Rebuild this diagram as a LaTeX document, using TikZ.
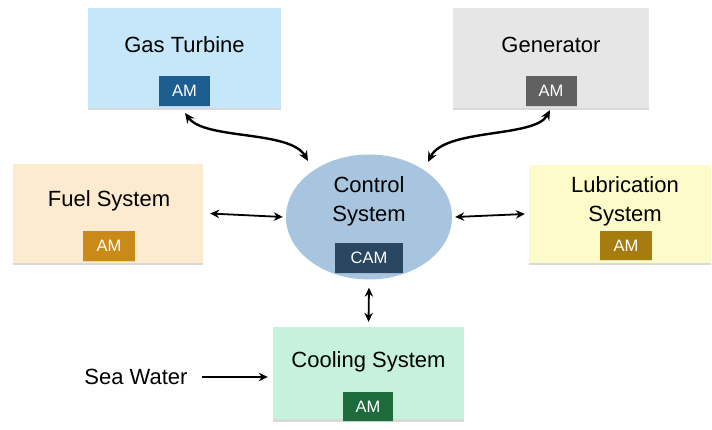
\documentclass[tikz,border=0pt]{standalone}
\usepackage{fontspec}
\setmainfont{Liberation Sans}
\usetikzlibrary{arrows.meta,shadows,shapes.geometric}
\definecolor{gtfill}{HTML}{C6E7FA}
\definecolor{gtam}{HTML}{1B5E8F}
\definecolor{genfill}{HTML}{E6E6E6}
\definecolor{genam}{HTML}{616161}
\definecolor{fuelfill}{HTML}{FDEBD0}
\definecolor{fuelam}{HTML}{C98A17}
\definecolor{ctrlfill}{HTML}{A7C5DE}
\definecolor{ctrlam}{HTML}{294761}
\definecolor{lubfill}{HTML}{FCFBC9}
\definecolor{lubam}{HTML}{A67C0F}
\definecolor{coolfill}{HTML}{C6F1DB}
\definecolor{coolam}{HTML}{1E6B3C}
\tikzset{
  sysbox/.style={rectangle, draw=none, inner sep=0pt,
    drop shadow={opacity=0.3, shadow xshift=0pt, shadow yshift=-2.5pt}},
  ambox/.style={rectangle, draw=none, inner sep=0pt, minimum width=51pt, minimum height=30pt,
    text=white, font=\fontsize{16.5}{19}\selectfont,
    drop shadow={opacity=0.2, shadow xshift=0pt, shadow yshift=-1pt}},
  lbl/.style={font=\fontsize{22}{26}\selectfont, text=black, inner sep=0pt, align=center},
  harrow/.style={line width=1.8pt, {Stealth[length=9pt,width=8.5pt]}-{Stealth[length=9pt,width=8.5pt]}},
  carrow/.style={line width=2.4pt, {Stealth[length=10pt,width=9pt]}-{Stealth[length=10pt,width=9pt]}},
  sarrow/.style={line width=1.8pt, -{Stealth[length=9pt,width=8.5pt]}}
}
\begin{document}
\begin{tikzpicture}[x=1pt,y=-1pt]
\useasboundingbox (0,0) rectangle (712,430);
\clip (0,0) rectangle (712,430);
% Gas Turbine
\node[sysbox, fill=gtfill, minimum width=193pt, minimum height=100pt] (gt) at (184.5,58) {};
\node[lbl] (gtl) at (184.5,45) {Gas Turbine};
\node[ambox, fill=gtam] (gta) at (184.5,91) {AM};
% Generator
\node[sysbox, fill=genfill, minimum width=196pt, minimum height=100pt] (gen) at (551,58) {};
\node[lbl] (genl) at (551,45) {Generator};
\node[ambox, fill=genam] (gena) at (551,91) {AM};
% Fuel System
\node[sysbox, fill=fuelfill, minimum width=190pt, minimum height=99pt] (fuel) at (108,213.5) {};
\node[lbl] (fuell) at (109,201) {Fuel System};
\node[ambox, fill=fuelam, minimum width=52pt] (fuela) at (109,246) {AM};
% Lubrication System
\node[sysbox, fill=lubfill, minimum width=182pt, minimum height=98pt] (lub) at (620,214) {};
\node[lbl] (lubl) at (625,201) {Lubrication\\[3pt]System};
\node[ambox, fill=lubam, minimum width=52pt, minimum height=29pt] (luba) at (626,246) {AM};
% Control System
\node[ellipse, fill=ctrlfill, draw=none, minimum width=166pt, minimum height=125pt, inner sep=0pt] (ctrl) at (369,217) {};
\node[lbl] (ctrll) at (369,201) {Control\\[3pt]System};
\node[ambox, fill=ctrlam, minimum width=68pt] (ctrla) at (369,258) {CAM};
% Cooling System
\node[sysbox, fill=coolfill, minimum width=191pt, minimum height=92pt] (cool) at (368.5,373) {};
\node[lbl] (cooll) at (368.5,362) {Cooling System};
\node[ambox, fill=coolam, minimum width=50pt, minimum height=29pt] (coola) at (368,406.5) {AM};
% Sea water
\node[lbl] (sea) at (136,377) {Sea Water};
% connectors
\coordinate (gts) at (185,113);
\coordinate (gte) at (308,161);
\draw[carrow] (gts) .. controls (205,140) and (290,130) .. (gte);
\coordinate (gens) at (550,110);
\coordinate (gene) at (428,162);
\draw[carrow] (gens) .. controls (535,138) and (445,128) .. (gene);
\draw[harrow] ([xshift=7pt]fuel.east) -- ([xshift=-3pt]ctrl.west);
\draw[harrow] ([xshift=3pt]ctrl.east) -- ([xshift=-4pt]lub.west);
\draw[harrow] ([yshift=-8pt]ctrl.south) -- ([yshift=5pt]cool.north);
\draw[sarrow] ([xshift=14pt]sea.east) -- ([xshift=-5pt]cool.west |- sea.east);
\end{tikzpicture}
\end{document}
